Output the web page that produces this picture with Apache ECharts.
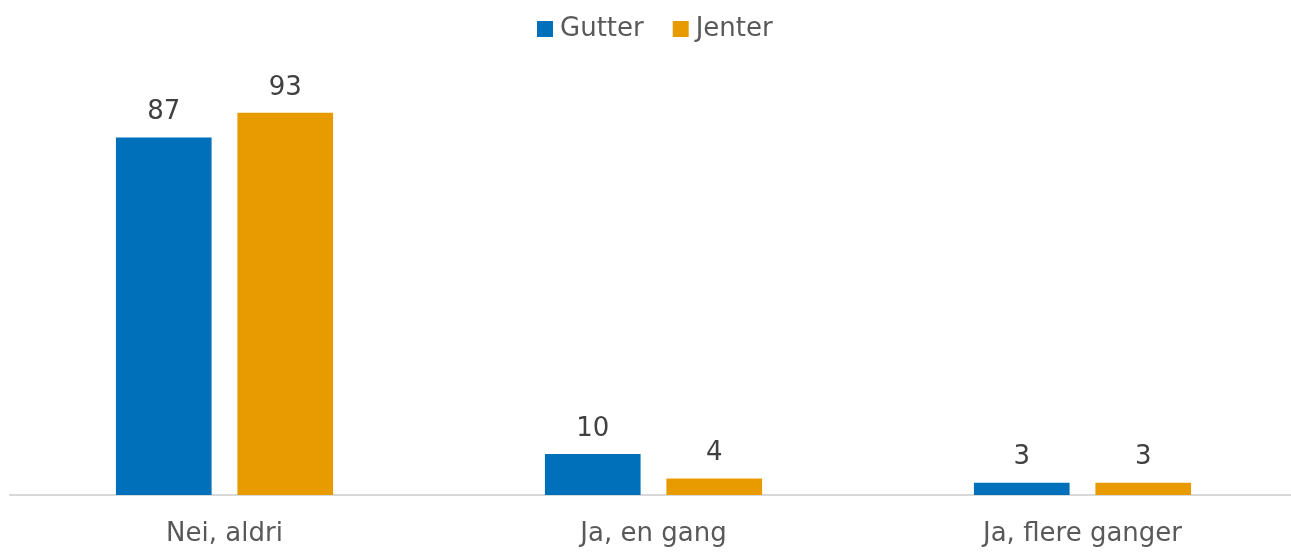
<!DOCTYPE html>
<html>
<head>
<meta charset="utf-8">
<script src="https://cdn.jsdelivr.net/npm/echarts@6/dist/echarts.min.js"></script>
<style>
  html, body { margin: 0; padding: 0; background: #ffffff; }
  #chart { width: 1291px; height: 553px; }
</style>
</head>
<body>
<div id="chart"></div>
<script>
// Answer categories and percentage shares per group
const categories = ['Nei, aldri', 'Ja, en gang', 'Ja, flere ganger'];
const gutter = [87, 10, 3];
const jenter = [93, 4, 3];

const FONT = '"DejaVu Sans", "Noto Sans", sans-serif';
const TEXT = '#595959';

const chart = echarts.init(document.getElementById('chart'), null, { renderer: 'canvas' });

const labelStyle = {
  show: true,
  position: 'top',
  distance: 12,
  color: '#404040',
  fontFamily: FONT,
  fontSize: 26
};

chart.setOption({
  animation: false,
  backgroundColor: '#ffffff',
  legend: {
    top: 11,
    left: 532,
    itemWidth: 16,
    itemHeight: 16,
    itemGap: 29,
    icon: 'rect',
    textStyle: { color: TEXT, fontFamily: FONT, fontSize: 26, padding: [0, 0, 0, 2] },
    data: ['Gutter', 'Jenter']
  },
  grid: {
    left: 10, width: 1287, top: 84, bottom: 58,
    containLabel: false, outerBoundsMode: 'none'
  },
  xAxis: {
    type: 'category',
    data: categories,
    axisLine: { show: true, lineStyle: { color: '#d9d9d9', width: 2 } },
    axisTick: { show: false },
    axisLabel: { color: TEXT, fontFamily: FONT, fontSize: 26, margin: 26 }
  },
  yAxis: {
    type: 'value',
    min: 0,
    max: 100,
    show: false,
    splitLine: { show: false }
  },
  series: [
    {
      name: 'Gutter',
      type: 'bar',
      data: gutter,
      barWidth: '22.3%',
      barGap: '27%',
      itemStyle: { color: '#0070BA' },
      label: labelStyle
    },
    {
      name: 'Jenter',
      type: 'bar',
      data: jenter,
      barWidth: '22.3%',
      itemStyle: { color: '#E89B00' },
      label: labelStyle
    }
  ]
});
</script>
</body>
</html>
